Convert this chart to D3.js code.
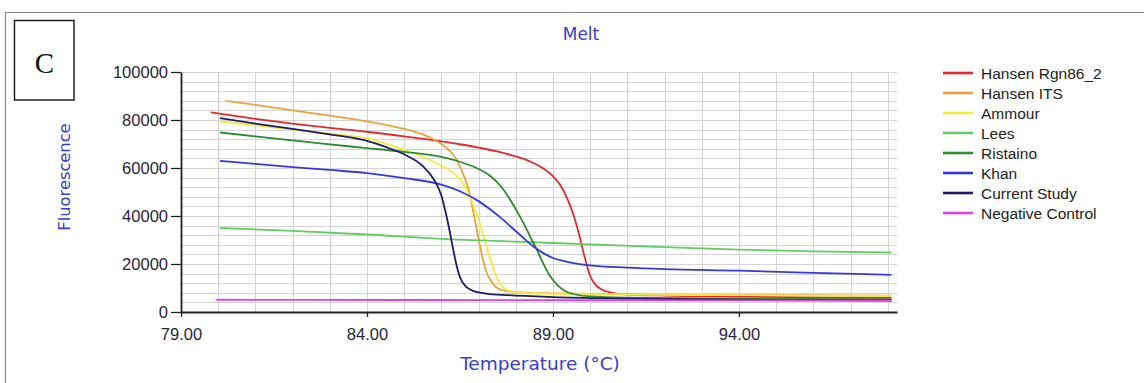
<!DOCTYPE html>
<html>
<head>
<meta charset="utf-8">
<script src="https://cdn.jsdelivr.net/npm/d3@7/dist/d3.min.js"></script>
<style>
  html, body { margin: 0; padding: 0; background: #fff; }
  svg { display: block; }
</style>
</head>
<body>
<svg id="chart" width="1144" height="383"></svg>
<script>
// Melt curves: fluorescence vs temperature, [°C, fluorescence] pairs
const hansenRgn = [[79.8,83200],[81,80500],[82,78500],[83,76700],[84,75100],[85,73200],[86,71100],[86.5,69900],[87,68500],[87.5,66900],[88,64800],[88.4,62600],[88.7,60200],[89,56600],[89.2,52800],[89.4,46700],[89.55,40500],[89.7,32500],[89.85,23000],[90,15000],[90.15,11300],[90.3,9500],[90.6,8000],[91,7300],[92,6800],[94,6400],[96,6100],[98.1,5900]];
const hansenITS = [[80.2,88000],[81,86300],[82,84000],[83,81800],[84,79400],[84.5,78000],[85,76300],[85.5,74000],[85.8,71900],[86,70000],[86.2,67500],[86.4,63700],[86.55,58800],[86.75,50000],[86.88,40000],[87,30500],[87.1,23000],[87.2,17200],[87.35,12500],[87.5,10000],[87.75,8700],[88.2,8100],[89,7800],[90,7500],[92,7200],[95,7000],[98.1,6800]];
const ammour = [[80.05,79400],[81,77800],[82,76000],[83,74300],[84,72300],[84.5,70200],[85,67700],[85.5,64600],[86,61000],[86.3,58300],[86.6,53200],[86.8,46700],[87,38500],[87.2,28000],[87.35,20500],[87.5,14000],[87.7,9800],[88,8200],[88.5,7700],[90,7400],[94,7000],[98.1,6700]];
const lees = [[80.05,35000],[82,33800],[84,32300],[86,30500],[88,29300],[90,28200],[92,27000],[94,26000],[96,25300],[98.1,24800]];
const ristaino = [[80.05,74800],[81,73200],[82,71500],[83,69800],[84,68300],[85,66700],[86,64600],[86.5,62600],[87,59600],[87.3,56900],[87.6,52400],[87.85,46800],[88.05,41500],[88.25,35800],[88.4,31000],[88.55,26500],[88.7,21500],[88.9,15500],[89.1,11500],[89.3,9000],[89.55,7500],[90,6500],[91,6000],[94,5600],[98.1,5300]];
const khan = [[80.05,63000],[81,61700],[82,60400],[83,59200],[84,57900],[85,55800],[86,53100],[86.5,50300],[87,46200],[87.3,42900],[87.6,39200],[88.05,33000],[88.5,27000],[88.8,24000],[89,22500],[89.3,21200],[89.55,20400],[90,19400],[91,18500],[92,17900],[94,17200],[96,16300],[98.1,15500]];
const currentStudy = [[80.05,80800],[81,78500],[82,76300],[83,74000],[84,71300],[84.5,68800],[85,65700],[85.5,60800],[85.8,55200],[86,48500],[86.1,42500],[86.2,35500],[86.3,27500],[86.4,20000],[86.5,14500],[86.65,10800],[86.85,8800],[87.2,7700],[87.8,7000],[89,6200],[91,5600],[94,5100],[98.1,4800]];
const negativeControl = [[79.95,5100],[85,5000],[90,4900],[95,4800],[98.1,4700]];

const seriesNames = ["Hansen Rgn86_2","Hansen ITS","Ammour","Lees","Ristaino","Khan","Current Study","Negative Control"];
const seriesData = [hansenRgn, hansenITS, ammour, lees, ristaino, khan, currentStudy, negativeControl];
const seriesColors = ["#e8262c","#e8a43c","#f4ea3c","#62cc62","#2c8a30","#3636e2","#1c1c6a","#e040e0"];

const xTicks = [79, 84, 89, 94];
const yTicks = [0, 20000, 40000, 60000, 80000, 100000];

const svg = d3.select("#chart");

// Outer panel frame (top and left edges)
svg.append("path")
  .attr("d", "M5.5,383 V12.5 H1144")
  .attr("fill", "none").attr("stroke", "#8a8a8a").attr("stroke-width", 1.2);

// Panel letter box
svg.append("rect")
  .attr("x", 14.5).attr("y", 20.5).attr("width", 59.5).attr("height", 79.5)
  .attr("fill", "#fff").attr("stroke", "#111").attr("stroke-width", 1.4);
svg.append("text")
  .attr("x", 44.5).attr("y", 73)
  .attr("text-anchor", "middle")
  .attr("font-family", "'Liberation Serif', 'Times New Roman', serif")
  .attr("font-size", 29).attr("fill", "#111")
  .text("C");

const x = d3.scaleLinear().domain([79, 98.25]).range([181, 897]);
const y = d3.scaleLinear().domain([0, 100000]).range([312, 72]);

// Grid
const grid = svg.append("g").attr("stroke", "#d4d4d4").attr("stroke-width", 1);
grid.selectAll("line.v").data(d3.range(80, 98.5, 1)).enter().append("line")
  .attr("x1", d => Math.round(x(d)) + 0.5).attr("x2", d => Math.round(x(d)) + 0.5)
  .attr("y1", y(100000)).attr("y2", y(0));
grid.selectAll("line.h").data(d3.range(4000, 100001, 4000)).enter().append("line")
  .attr("x1", x(79)).attr("x2", x(98.25))
  .attr("y1", d => Math.round(y(d)) + 0.5).attr("y2", d => Math.round(y(d)) + 0.5);

// Curves
const line = d3.line()
  .x(d => x(d[0]))
  .y(d => y(d[1]))
  .curve(d3.curveMonotoneX);

svg.append("g").selectAll("path").data(seriesData).enter().append("path")
  .attr("d", line)
  .attr("fill", "none")
  .attr("stroke", (d, i) => seriesColors[i])
  .attr("stroke-width", 1.8)
  .attr("stroke-linejoin", "round");

// Axes
const tickFont = "'Liberation Sans', Arial, sans-serif";
const xAxis = svg.append("g")
  .attr("transform", `translate(0,${y(0)})`)
  .call(d3.axisBottom(x).tickValues(xTicks).tickFormat(d3.format(".2f")).tickSize(5).tickSizeOuter(0));
const yAxis = svg.append("g")
  .attr("transform", `translate(${x(79)},0)`)
  .call(d3.axisLeft(y).tickValues(yTicks).tickFormat(d3.format("d")).tickSize(10).tickSizeOuter(0));

[xAxis, yAxis].forEach(a => {
  a.select(".domain").attr("stroke", "#222").attr("stroke-width", 1.8);
  a.selectAll(".tick line").attr("stroke", "#222").attr("stroke-width", 1.3);
  a.selectAll(".tick text")
    .attr("font-family", tickFont).attr("font-size", 16.5).attr("fill", "#26263a");
});
xAxis.selectAll(".tick text").attr("dy", null).attr("y", 28);
yAxis.selectAll(".tick text").attr("x", -13).attr("dy", "0.36em");

// Titles
const titleFont = "'DejaVu Sans', Verdana, sans-serif";
svg.append("text")
  .attr("x", 581).attr("y", 40)
  .attr("text-anchor", "middle")
  .attr("font-family", titleFont).attr("font-size", 17).attr("fill", "#3a3ad4")
  .text("Melt");
svg.append("text")
  .attr("transform", "translate(70,177) rotate(-90)")
  .attr("text-anchor", "middle")
  .attr("font-family", titleFont).attr("font-size", 16.3).attr("fill", "#3a3ad4")
  .text("Fluorescence");
svg.append("text")
  .attr("x", 540).attr("y", 370)
  .attr("text-anchor", "middle")
  .attr("font-family", titleFont).attr("font-size", 18.5).attr("fill", "#3a3ad4")
  .text("Temperature (°C)");

// Legend
const legend = svg.append("g");
const rows = legend.selectAll("g").data(seriesNames).enter().append("g")
  .attr("transform", (d, i) => `translate(0,${73 + i * 20})`);
rows.append("line")
  .attr("x1", 943).attr("x2", 973).attr("y1", 0).attr("y2", 0)
  .attr("stroke", (d, i) => seriesColors[i]).attr("stroke-width", 2.6);
rows.append("text")
  .attr("x", 981).attr("y", 0).attr("dy", "0.36em")
  .attr("font-family", tickFont).attr("font-size", 15.5).attr("fill", "#222")
  .text(d => d);
</script>
</body>
</html>
